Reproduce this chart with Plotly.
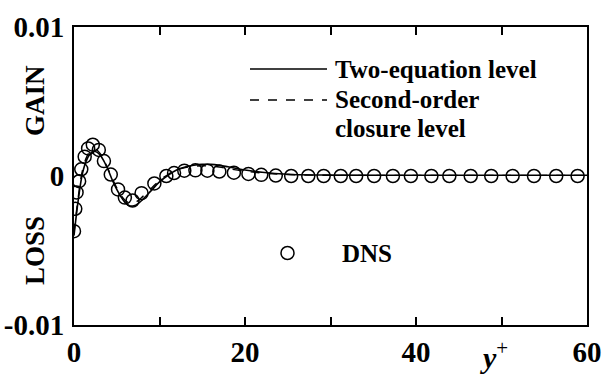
import plotly.graph_objects as go

# ---- data ----
dns_y_plus = [0.0, 0.15, 0.3, 0.6, 0.85, 1.25, 1.65, 2.2, 2.9, 3.5, 4.3, 5.15, 5.95, 6.85,
              7.9, 9.4, 10.8, 11.7, 12.9, 14.2, 15.6, 17.0, 18.7, 20.4, 21.9, 23.6, 25.4,
              27.4, 29.2, 31.2, 33.0, 35.1, 37.3, 39.4, 41.8, 43.9, 46.4, 48.8, 51.3, 53.8,
              56.4, 58.9]
dns_val = [-3.7e-3, -2.2e-3, -1.1e-3, -0.35e-3, 0.45e-3, 1.3e-3, 1.85e-3, 2.1e-3, 1.75e-3,
           1.0e-3, 0.1e-3, -0.9e-3, -1.45e-3, -1.65e-3, -1.15e-3, -0.5e-3, 0.0, 0.2e-3,
           0.36e-3, 0.38e-3, 0.36e-3, 0.3e-3, 0.22e-3, 0.14e-3, 0.08e-3, 0.03e-3, 0.0,
           0.0, 0.0, 0.0, 0.0, 0.0, 0.0, 0.0, 0.0, 0.0, 0.0, 0.0, 0.0, 0.0, 0.0, 0.0]

two_eq_y_plus = [0.0, 0.5, 1.0, 1.5, 2.0, 2.5, 3.0, 3.5, 4.0, 4.5, 5.0, 5.5, 6.0, 6.5, 7.0,
                 7.5, 8.0, 9.0, 10.0, 11.0, 12.0, 13.0, 14.0, 15.0, 16.0, 17.0, 18.0, 20.0,
                 22.0, 25.0, 30.0, 40.0, 50.0, 60.0]
two_eq_val = [-4.0e-3, -1.6e-3, 0.2e-3, 1.1e-3, 1.55e-3, 1.65e-3, 1.45e-3, 1.0e-3, 0.4e-3,
              -0.3e-3, -0.9e-3, -1.4e-3, -1.8e-3, -2.0e-3, -2.0e-3, -1.85e-3, -1.6e-3,
              -1.0e-3, -0.4e-3, 0.05e-3, 0.4e-3, 0.6e-3, 0.72e-3, 0.78e-3, 0.78e-3, 0.72e-3,
              0.62e-3, 0.4e-3, 0.25e-3, 0.12e-3, 0.06e-3, 0.05e-3, 0.05e-3, 0.05e-3]

second_y_plus = [0.0, 0.5, 1.0, 1.5, 2.0, 2.5, 3.0, 3.5, 4.0, 4.5, 5.0, 5.5, 6.0, 6.5, 7.0,
                 7.5, 8.0, 9.0, 10.0, 11.0, 12.0, 13.0, 14.0, 15.0, 16.0, 17.0, 18.0, 20.0,
                 22.0, 25.0, 30.0, 40.0, 50.0, 60.0]
second_val = [-3.8e-3, -1.4e-3, 0.4e-3, 1.3e-3, 1.75e-3, 1.8e-3, 1.55e-3, 1.05e-3, 0.45e-3,
              -0.2e-3, -0.8e-3, -1.3e-3, -1.65e-3, -1.8e-3, -1.8e-3, -1.65e-3, -1.4e-3,
              -0.85e-3, -0.3e-3, 0.1e-3, 0.4e-3, 0.56e-3, 0.65e-3, 0.68e-3, 0.66e-3, 0.6e-3,
              0.5e-3, 0.32e-3, 0.2e-3, 0.1e-3, 0.05e-3, 0.04e-3, 0.04e-3, 0.04e-3]

x_tick_vals = [0, 20, 40, 60]
x_tick_text = ["0", "20", "40", "60"]
y_tick_vals = [-0.01, 0, 0.01]
y_tick_text = ["-0.01", "0", "0.01"]

FONT = "Liberation Serif"

fig = go.Figure()
fig.add_trace(go.Scatter(x=two_eq_y_plus, y=two_eq_val, mode="lines", line_shape="spline",
                         line=dict(color="black", width=1.6), showlegend=False))
fig.add_trace(go.Scatter(x=second_y_plus, y=second_val, mode="lines", line_shape="spline",
                         line=dict(color="black", width=1.4, dash="dash"), showlegend=False))
fig.add_trace(go.Scatter(x=dns_y_plus, y=dns_val, mode="markers",
                         marker=dict(symbol="circle-open", size=13, color="black",
                                     line=dict(width=1.5, color="black")),
                         showlegend=False))

W, H = 606, 374
L, R, T, B = 74, 19, 27, 49
pw, ph = W - L - R, H - T - B

def px(x):
    return (x - L) / pw

def py(y):
    return (H - B - y) / ph

shapes = [
    dict(type="line", xref="paper", yref="paper", x0=px(250), x1=px(327), y0=py(69), y1=py(69),
         line=dict(color="black", width=1.6)),
    dict(type="line", xref="paper", yref="paper", x0=px(250), x1=px(327), y0=py(100), y1=py(100),
         line=dict(color="black", width=1.4, dash="dash")),
    dict(type="circle", xref="paper", yref="paper", x0=px(281), x1=px(294), y0=py(259.5), y1=py(246.5),
         line=dict(color="black", width=1.5)),
]

txt_font = dict(family=FONT, size=25, color="black")
annotations = [
    dict(text="<b>Two-equation level</b>", xref="paper", yref="paper", x=px(333), y=py(70),
         xanchor="left", yanchor="middle", showarrow=False, font=txt_font),
    dict(text="<b>Second-order</b>", xref="paper", yref="paper", x=px(333), y=py(99),
         xanchor="left", yanchor="middle", showarrow=False, font=txt_font),
    dict(text="<b>closure level</b>", xref="paper", yref="paper", x=px(333), y=py(128),
         xanchor="left", yanchor="middle", showarrow=False, font=txt_font),
    dict(text="<b>DNS</b>", xref="paper", yref="paper", x=px(340), y=py(253),
         xanchor="left", yanchor="middle", showarrow=False, font=txt_font),
    dict(text="<b>GAIN</b>", xref="paper", yref="paper", x=px(35), y=py(101), textangle=-90,
         xanchor="center", yanchor="middle", showarrow=False, font=dict(family=FONT, size=27, color="black")),
    dict(text="<b>LOSS</b>", xref="paper", yref="paper", x=px(35), y=py(251), textangle=-90,
         xanchor="center", yanchor="middle", showarrow=False, font=dict(family=FONT, size=27, color="black")),
    dict(text="<b><i>y</i></b><sup>+</sup>", xref="paper", yref="paper", x=px(494), y=py(355),
         xanchor="center", yanchor="middle", showarrow=False, font=dict(family=FONT, size=30, color="black")),
]

fig.update_layout(
    width=W, height=H, margin=dict(l=L, r=R, t=T, b=B),
    paper_bgcolor="white", plot_bgcolor="white",
    shapes=shapes, annotations=annotations,
    xaxis=dict(range=[0, 60], tickvals=x_tick_vals,
               ticktext=[f"<b>{t}</b>" for t in x_tick_text], ticks="inside",
               ticklen=8, tickwidth=1.5, tickcolor="black", showline=True, linecolor="black",
               linewidth=2, mirror="ticks", showgrid=False, zeroline=False, automargin=False,
               minor=dict(ticks="inside", ticklen=8, tickwidth=1.5, tickcolor="black",
                          tick0=0, dtick=10, showgrid=False),
               tickfont=dict(family=FONT, size=29, color="black", weight="bold")),
    yaxis=dict(range=[-0.01, 0.01], tickvals=y_tick_vals,
               ticktext=[f"<b>{t}</b>" for t in y_tick_text], ticks="",
               showline=True, linecolor="black", linewidth=2, mirror=True, showgrid=False,
               zeroline=False, automargin=False, ticklabelstandoff=2,
               tickfont=dict(family=FONT, size=29, color="black", weight="bold")),
)

fig.write_html("out.html")
